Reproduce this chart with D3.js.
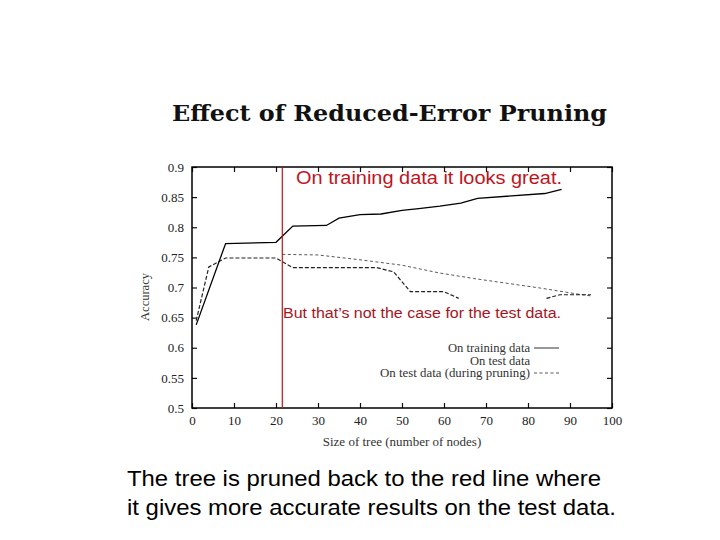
<!DOCTYPE html>
<html><head><meta charset="utf-8">
<script src="https://cdn.jsdelivr.net/npm/d3@7"></script>
<style>html,body{margin:0;padding:0;background:#fff;}</style>
</head><body>
<svg id="c" width="720" height="540"></svg>
<script>
const xTicks = [0,10,20,30,40,50,60,70,80,90,100];
const yTicks = [0.5,0.55,0.6,0.65,0.7,0.75,0.8,0.85,0.9];
const yTickLabels = ["0.5","0.55","0.6","0.65","0.7","0.75","0.8","0.85","0.9"];

const trainX = [1, 8, 20, 24, 32, 35, 40, 45, 50, 54, 59, 64, 68, 84, 88];
const trainY = [0.638, 0.773, 0.775, 0.802, 0.803, 0.815, 0.821, 0.822, 0.828, 0.831, 0.835, 0.840, 0.848, 0.856, 0.863];

const pruneX = [1, 4, 8, 20, 24, 44, 48, 52, 60, 63.5, null, 84.4, 87.6, 95];
const pruneY = [0.645, 0.734, 0.749, 0.749, 0.733, 0.733, 0.726, 0.693, 0.693, 0.682, null, 0.682, 0.688, 0.688];

const testX = [21.5, 30, 40, 50, 59, 67, 75, 83, 91, 95];
const testY = [0.755, 0.754, 0.746, 0.737, 0.724, 0.715, 0.707, 0.699, 0.690, 0.686];

const cutX = 21.5;
const legendLabels = ["On training data", "On test data", "On test data (during pruning)"];

const svg = d3.select("#c");
const L = 192, R = 612, T = 167, B = 408;
const x = d3.scaleLinear().domain([0,100]).range([L,R]);
const y = d3.scaleLinear().domain([0.5,0.9]).range([B,T]);
const serif = "'Liberation Serif','Times New Roman',serif";

// title
svg.append("text").attr("x",172).attr("y",121)
  .attr("font-family","'DejaVu Serif',serif").attr("font-weight","bold")
  .attr("font-size",22).attr("textLength",435).attr("lengthAdjust","spacingAndGlyphs")
  .attr("fill","#111").text("Effect of Reduced-Error Pruning");

// axes with inward ticks
const g = svg.append("g");
const tk = 5;
g.append("g").attr("transform",`translate(0,${B})`)
  .call(d3.axisBottom(x).tickValues(xTicks).tickSizeInner(-tk).tickSizeOuter(0).tickPadding(8))
  .call(a=>a.select(".domain").remove());
g.append("g").attr("transform",`translate(0,${T})`)
  .call(d3.axisTop(x).tickValues(xTicks).tickSizeInner(-tk).tickSizeOuter(0).tickFormat(""))
  .call(a=>a.select(".domain").remove());
g.append("g").attr("transform",`translate(${L},0)`)
  .call(d3.axisLeft(y).tickValues(yTicks).tickSizeInner(-tk).tickSizeOuter(0).tickPadding(8)
    .tickFormat((d,i)=>yTickLabels[i]))
  .call(a=>a.select(".domain").remove());
g.append("g").attr("transform",`translate(${R},0)`)
  .call(d3.axisRight(y).tickValues(yTicks).tickSizeInner(-tk).tickSizeOuter(0).tickFormat(""))
  .call(a=>a.select(".domain").remove());
g.selectAll(".tick text").attr("font-family",serif).attr("font-size",13).attr("fill","#222");
g.selectAll(".tick line").attr("stroke","#111").attr("stroke-width",1.2);

svg.append("rect").attr("x",L).attr("y",T).attr("width",R-L).attr("height",B-T)
  .attr("fill","none").attr("stroke","#000").attr("stroke-width",1.5);

// axis labels
svg.append("text").attr("transform","translate(149,297) rotate(-90)")
  .attr("text-anchor","middle").attr("font-family",serif).attr("font-size",12.5)
  .attr("fill","#333").text("Accuracy");
svg.append("text").attr("x",402).attr("y",446).attr("text-anchor","middle")
  .attr("font-family",serif).attr("font-size",13).attr("fill","#333")
  .text("Size of tree (number of nodes)");

// lines
const mk = (xs,ys)=>xs.map((v,i)=>({x:v,y:ys[i]}));
const line = d3.line().defined(d=>d.x!==null && d.y!==null).x(d=>x(d.x)).y(d=>y(d.y));
svg.append("path").datum(mk(testX,testY)).attr("d",line).attr("fill","none")
  .attr("stroke","#444").attr("stroke-width",0.9).attr("stroke-dasharray","3,2.5");
svg.append("path").datum(mk(pruneX,pruneY)).attr("d",line).attr("fill","none")
  .attr("stroke","#222").attr("stroke-width",1.2).attr("stroke-dasharray","4,2");
svg.append("path").datum(mk(trainX,trainY)).attr("d",line).attr("fill","none")
  .attr("stroke","#000").attr("stroke-width",1.3);

// legend
const ly = [348, 360.5, 373];
legendLabels.forEach((t,i)=>{
  svg.append("text").attr("x",530).attr("y",ly[i]+4).attr("text-anchor","end")
    .attr("font-family",serif).attr("font-size",11.5).attr("fill","#333")
    .attr("textLength", i===0 ? 82 : i===1 ? 60 : 150).attr("lengthAdjust","spacingAndGlyphs")
    .text(t);
});
svg.append("line").attr("x1",534).attr("x2",559).attr("y1",ly[0]).attr("y2",ly[0])
  .attr("stroke","#333").attr("stroke-width",1);
svg.append("line").attr("x1",534).attr("x2",559).attr("y1",ly[2]).attr("y2",ly[2])
  .attr("stroke","#444").attr("stroke-width",0.9).attr("stroke-dasharray","3,2.5");

// red cut line
svg.append("line").attr("x1",x(cutX)).attr("x2",x(cutX)).attr("y1",T).attr("y2",B)
  .attr("stroke","#c0141c").attr("stroke-width",1.2);

// annotations
svg.append("text").attr("x",296).attr("y",184).attr("font-family","'Liberation Sans',Arial,sans-serif")
  .attr("font-size",17.5).attr("fill","#c0141c").attr("textLength",266).attr("lengthAdjust","spacingAndGlyphs")
  .text("On training data it looks great.");
svg.append("text").attr("x",283).attr("y",318).attr("font-family","'Liberation Sans',Arial,sans-serif")
  .attr("font-size",14).attr("fill","#a8141c").attr("textLength",278).attr("lengthAdjust","spacingAndGlyphs")
  .text("But that’s not the case for the test data.");
svg.append("text").attr("x",127).attr("y",486).attr("font-family","'Liberation Sans',Arial,sans-serif")
  .attr("font-size",21.5).attr("fill","#000").attr("textLength",474).attr("lengthAdjust","spacingAndGlyphs")
  .text("The tree is pruned back to the red line where");
svg.append("text").attr("x",127).attr("y",515).attr("font-family","'Liberation Sans',Arial,sans-serif")
  .attr("font-size",21.5).attr("fill","#000").attr("textLength",489).attr("lengthAdjust","spacingAndGlyphs")
  .text("it gives more accurate results on the test data.");
</script>
</body></html>
